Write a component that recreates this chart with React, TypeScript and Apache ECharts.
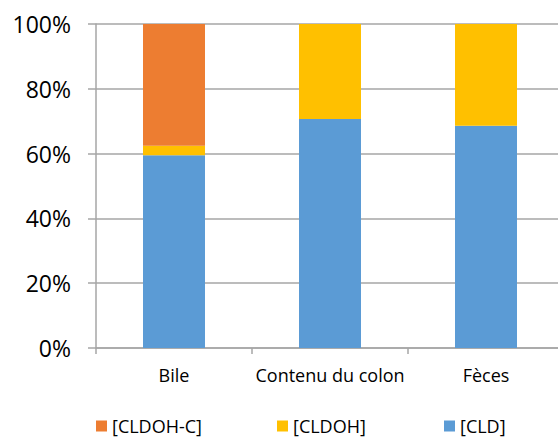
import React, { useEffect, useRef } from "react";
import * as echarts from "echarts";

const categories = ["Bile", "Contenu du colon", "Fèces"];
const seriesNames = ["[CLDOH-C]", "[CLDOH]", "[CLD]"];
const cldValues = [59.5, 70.7, 68.6];
const cldohValues = [2.9, 29.3, 31.4];
const cldohcValues = [37.6, 0, 0];
const yTicks = [0, 20, 40, 60, 80, 100];

const COLORS: Record<string, string> = {
  "[CLDOH-C]": "#ED7D31",
  "[CLDOH]": "#FFC000",
  "[CLD]": "#5B9BD5",
};

const FONT = "Open Sans";

export default function App() {
  const ref = useRef<HTMLDivElement>(null);
  useEffect(() => {
    if (!ref.current) return;
    const chart = echarts.init(ref.current, null, { renderer: "svg" });
    const legendLefts = [96, 277, 444];
    chart.setOption({
      animation: false,
      backgroundColor: "#ffffff",
      grid: { left: 96, top: 24, right: 6, bottom: 89, containLabel: false },
      legend: seriesNames.map((n, i) => ({
        data: [n],
        left: legendLefts[i],
        top: 417,
        itemWidth: 11,
        itemHeight: 11,
        icon: "rect",
        itemGap: 0,
        padding: 0,
        textStyle: { fontFamily: FONT, fontSize: 18, color: "#000000" },
      })),
      xAxis: {
        type: "category",
        data: categories,
        axisLine: { lineStyle: { color: "#A6A6A6", width: 1.5 } },
        axisTick: { show: true, length: 6, lineStyle: { color: "#A6A6A6", width: 1.5 } },
        axisLabel: { fontFamily: FONT, fontSize: 18, color: "#000000", margin: 18, interval: 0 },
      },
      yAxis: {
        type: "value",
        min: yTicks[0],
        max: yTicks[yTicks.length - 1],
        interval: 20,
        axisLine: { show: true, lineStyle: { color: "#A6A6A6", width: 1.5 } },
        axisTick: { show: true, length: 8, lineStyle: { color: "#A6A6A6", width: 1.5 } },
        splitLine: { show: true, lineStyle: { color: "#A6A6A6", width: 1.5 } },
        axisLabel: {
          fontFamily: FONT,
          fontSize: 23,
          color: "#000000",
          margin: 25,
          formatter: "{value}%",
        },
      },
      series: [
        { name: "[CLD]", type: "bar", stack: "s", data: cldValues, barWidth: 62, itemStyle: { color: COLORS["[CLD]"] } },
        { name: "[CLDOH]", type: "bar", stack: "s", data: cldohValues, barWidth: 62, itemStyle: { color: COLORS["[CLDOH]"] } },
        { name: "[CLDOH-C]", type: "bar", stack: "s", data: cldohcValues, barWidth: 62, itemStyle: { color: COLORS["[CLDOH-C]"] } },
      ],
    });
    return () => chart.dispose();
  }, []);
  return (
    <div style={{ width: 558, height: 437, position: "absolute", left: 0, top: 0, overflow: "hidden" }}>
      <div ref={ref} style={{ width: 570, height: 437 }} />
    </div>
  );
}
